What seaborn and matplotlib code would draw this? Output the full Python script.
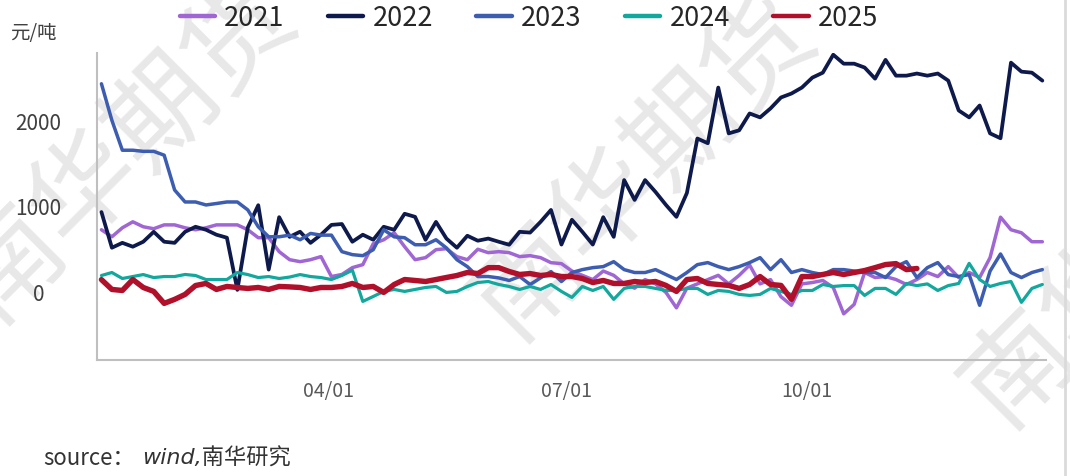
import pandas as pd
import matplotlib
matplotlib.use('Agg')
import matplotlib.pyplot as plt
from matplotlib.lines import Line2D
import seaborn as sns

# values read every 4 days from Jan 4 (common calendar, unit: 元/吨)
years = ['2021', '2022', '2023', '2024', '2025']
colors = ['#A066D3', '#0E1A4B', '#3D5DB1', '#12A89D', '#B0102A']
widths = [2.5, 2.7, 2.5, 2.3, 3.9]

v2021 = [733, 651, 756, 826, 768, 745, 790, 790, 756, 733, 756, 790, 790, 790, 733, 640, 640, 477, 383, 360, 383, 419, 186,
         210, 290, 325, 570, 616, 698, 535, 383, 407, 500, 512, 419, 383, 505, 465, 477, 465, 419, 430, 407, 348, 337,
         250, 200, 150, 250, 200, 100, 50, 150, 100, 0, -180, 50, 100, 150, 200, 100, 200, 320, 100, 150, -50, -150, 100,
         116, 140, 58, -250, -140, 233, 174, 186, 151, 93, 151, 233, 186, 302, 174, 233, 174, 407, 880, 733, 698, 593, 593]
v2022 = [940, 523, 580, 535, 593, 709, 593, 580, 709, 768, 733, 675, 640, 30, 760, 1020, 267, 880, 650, 710, 580, 675, 790,
         800, 593, 675, 616, 768, 733, 920, 884, 616, 825, 630, 523, 663, 605, 630, 593, 558, 709, 700, 825, 965, 560,
         850, 709, 560, 880, 650, 1314, 1082, 1314, 1175, 1023, 884, 1163, 1800, 1745, 2396, 1860, 1896, 2093, 2047, 2152, 2280, 2326, 2396,
         2512, 2570, 2780, 2675, 2675, 2630, 2500, 2720, 2535, 2535, 2560, 2535, 2560, 2477, 2128, 2047, 2186, 1860, 1803, 2687, 2582, 2570, 2477]
v2023 = [2440, 2012, 1663, 1663, 1650, 1650, 1605, 1198, 1058, 1058, 1023, 1040, 1058, 1058, 965, 768, 651, 651, 670, 616, 690, 670, 670,
         477, 442, 430, 500, 733, 650, 640, 558, 558, 616, 520, 383, 302, 186, 186, 170, 140, 186, 93, 170, 244, 128,
         233, 267, 290, 302, 360, 267, 233, 233, 267, 209, 151, 233, 325, 349, 302, 267, 302, 349, 407, 267, 383, 233, 267,
         233, 209, 267, 267, 250, 233, 233, 174, 302, 360, 174, 290, 349, 209, 186, 209, -150, 250, 450, 233, 174, 233, 267]
v2024 = [198, 233, 163, 186, 209, 174, 186, 186, 210, 198, 151, 151, 151, 233, 209, 174, 186, 163, 180, 209, 186, 174, 151,
         198, 260, -105, -47, 12, 35, 12, 35, 58, 70, 0, 12, 70, 116, 128, 93, 70, 35, 70, 35, 93, 12,
         -58, 70, 23, 70, -81, 47, 70, 70, 47, 23, 23, 47, 47, -23, 23, 12, -23, -35, -23, 47, 12, -23, 23,
         23, 93, 70, 80, 80, -35, 47, 47, -23, 105, 80, 100, 23, 80, 105, 340, 151, 70, 105, 128, -116, 47, 93]
v2025 = [150, 35, 23, 151, 58, 12, -128, -81, -23, 81, 105, 35, 70, 58, 47, 58, 35, 70, 65, 58, 35, 58, 58,
         70, 105, 58, 70, 0, 93, 151, 140, 128, 151, 175, 198, 233, 221, 290, 290, 245, 210, 221, 198, 210, 186,
         186, 163, 116, 140, 105, 105, 128, 116, 128, 82, 12, 151, 163, 105, 93, 82, 47, 93, 186, 93, 82, -81, 186,
         186, 210, 233, 210, 233, 256, 290, 326, 337, 267, 280]
series = [v2021, v2022, v2023, v2024, v2025]

xtick_dates = ['2001-04-01', '2001-07-01', '2001-10-01']
xtick_labels = ['04/01', '07/01', '10/01']
yticks = [0, 1000, 2000]

frames = []
for yr, vals in zip(years, series):
    dates = pd.date_range('2001-01-04', periods=len(vals), freq='4D')
    frames.append(pd.DataFrame({'date': dates, 'value': vals, 'year': yr}))
df = pd.concat(frames, ignore_index=True)

sns.set_style('white')
plt.rcParams['font.family'] = ['Noto Sans CJK SC', 'DejaVu Sans']

W, H = 1070, 476
fig = plt.figure(figsize=(W / 100, H / 100), dpi=100, facecolor='white')

# watermark behind the plot
for cx, cy in [(125, 150), (645, 168), (1135, 255)]:
    fig.text(cx / W, 1 - cy / H, '南华期货', fontsize=78, rotation=45, color='#E8E8E8',
             ha='center', va='center', zorder=-1)

ax = fig.add_axes([97 / W, 1 - 360 / H, (1046 - 97) / W, (360 - 53) / H])
ax.patch.set_alpha(0)

for yr, c, lw in zip(years, colors, widths):
    sns.lineplot(data=df[df['year'] == yr], x='date', y='value', color=c,
                 linewidth=lw, ax=ax, legend=False)

jan1 = pd.Timestamp('2001-01-01')
ax.set_xlim(jan1 + pd.Timedelta(days=1.3), jan1 + pd.Timedelta(days=364.4))
ax.set_ylim(-790, 2800)
ax.set_xticks(pd.to_datetime(xtick_dates))
ax.set_xticklabels(xtick_labels)
ax.set_yticks(yticks)
ax.set_yticklabels([str(t) for t in yticks])
ax.set_xlabel('')
ax.set_ylabel('')

for side in ['top', 'right']:
    ax.spines[side].set_visible(False)
for side in ['left', 'bottom']:
    ax.spines[side].set_color('#BFBFBF')
    ax.spines[side].set_linewidth(1.5)

ax.tick_params(axis='x', direction='in', length=8, width=1, color='#BFBFBF',
               labelsize=14, labelcolor='#595959', pad=15)
ax.tick_params(axis='y', direction='in', length=6, width=1, color='#BFBFBF',
               labelsize=15, labelcolor='#404040', pad=42)
for t in ax.get_yticklabels():
    t.set_horizontalalignment('center')

handles = [Line2D([], [], color=c, linewidth=3.2) for c in colors]
leg = fig.legend(handles, years, loc='center', bbox_to_anchor=(529 / W, 1 - 18 / H), ncol=5,
                 frameon=False, fontsize=19.5, handlelength=1.3, handletextpad=0.35,
                 columnspacing=1.6)
for t in leg.get_texts():
    t.set_color('#262626')

fig.text(10 / W, 1 - 34 / H, '元/吨', fontsize=14, color='#404040', ha='left', va='center')
fig.text(43 / W, 1 - 458 / H, 'source：', fontsize=16, color='#333333', ha='left', va='center')
fig.text(142 / W, 1 - 458 / H, 'wind,南华研究', fontsize=16, color='#333333', ha='left', va='center',
         style='italic', family=['DejaVu Sans', 'Noto Sans CJK SC'])

fig.add_artist(Line2D([1065 / W, 1065 / W], [0, 1], transform=fig.transFigure,
                      color='#DADADA', linewidth=2))

fig.savefig('out.png', dpi=100, facecolor='white')
